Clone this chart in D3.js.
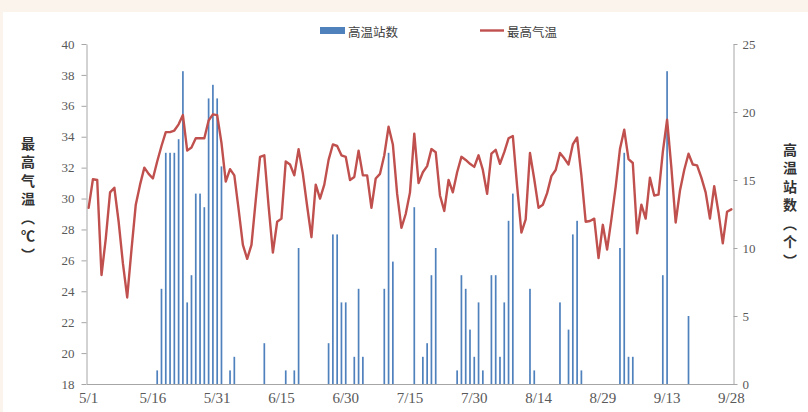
<!DOCTYPE html>
<html>
<head>
<meta charset="utf-8">
<script src="https://cdn.jsdelivr.net/npm/d3@7"></script>
<style>
  html, body { margin: 0; padding: 0; background: #fbf4ec; }
  svg { display: block; }
</style>
</head>
<body>
<svg id="chart" width="808" height="412"></svg>
<script>
// Daily maximum temperature (°C), 5/1 – 9/28
const maxTemp = [
  29.4, 31.25, 31.2, 25.05, 27.4, 30.4, 30.7, 28.5, 25.8, 23.6,
  26.7, 29.6, 30.9, 32.0, 31.6, 31.3, 32.4, 33.4, 34.3, 34.3,
  34.4, 34.8, 35.4, 33.1, 33.3, 33.9, 33.9, 33.9, 35.05, 35.45,
  35.4, 33.6, 31.1, 31.9, 31.5, 29.3, 27.0, 26.1, 27.0, 29.9,
  32.7, 32.8, 29.5, 26.5, 28.5, 28.7, 32.4, 32.2, 31.5, 33.2,
  31.6, 29.5, 27.5, 30.9, 30.0, 30.9, 32.5, 33.5, 33.4, 32.8,
  32.7, 31.2, 31.4, 33.1, 31.5, 31.5, 29.4, 31.3, 31.6, 32.8,
  34.65, 33.5, 30.3, 28.1, 29.0, 30.4, 34.2, 31.0, 31.7, 32.1,
  33.2, 33.0, 30.2, 29.2, 31.2, 30.4, 31.7, 32.7, 32.5, 32.25,
  32.05, 32.8, 31.85, 30.3, 32.9, 33.15, 32.25, 33.0, 33.9, 34.05,
  30.8, 27.8, 28.65, 32.95, 31.25, 29.4, 29.6, 30.35, 31.45, 31.85,
  32.95, 32.6, 32.2, 33.5, 33.95, 31.5, 28.5, 28.55, 28.7, 26.15,
  28.3, 26.7, 28.65, 30.75, 33.2, 34.45, 32.55, 32.3, 27.75, 29.6,
  28.7, 31.35, 30.2, 30.25, 33.0, 35.1, 32.0, 28.45, 30.5, 31.85,
  32.9, 32.2, 32.15, 31.35, 30.4, 28.7, 30.8, 29.1, 27.1, 29.15,
  29.3
];

// Number of high-temperature stations per day
const hotStations = [
  0, 0, 0, 0, 0, 0, 0, 0, 0, 0,
  0, 0, 0, 0, 0, 0, 1, 7, 17, 17,
  17, 18, 23, 6, 8, 14, 14, 13, 21, 22,
  21, 16, 0, 1, 2, 0, 0, 0, 0, 0,
  0, 3, 0, 0, 0, 0, 1, 0, 1, 10,
  0, 0, 0, 0, 0, 0, 3, 11, 11, 6,
  6, 0, 2, 7, 2, 0, 0, 0, 0, 7,
  17, 9, 0, 0, 0, 0, 13, 0, 2, 3,
  8, 10, 0, 0, 0, 0, 1, 8, 7, 4,
  2, 6, 1, 0, 8, 8, 2, 6, 12, 14,
  0, 0, 0, 7, 1, 0, 0, 0, 0, 0,
  6, 0, 4, 11, 12, 1, 0, 0, 0, 0,
  0, 0, 0, 0, 10, 17, 2, 2, 0, 0,
  0, 0, 0, 0, 8, 23, 0, 0, 0, 0,
  5, 0, 0, 0, 0, 0, 0, 0, 0, 0,
  0
];

const startDate = new Date(2013, 4, 1);
const dayLabels = maxTemp.map((_, i) => d3.timeFormat("%-m/%-d")(d3.timeDay.offset(startDate, i)));
const xTickLabels = ["5/1", "5/16", "5/31", "6/15", "6/30", "7/15", "7/30", "8/14", "8/29", "9/13", "9/28"];
const tempTicks = [18, 20, 22, 24, 26, 28, 30, 32, 34, 36, 38, 40];
const stationTicks = [0, 5, 10, 15, 20, 25];

const svg = d3.select("#chart");
const W = 808, H = 412;
const plot = { left: 86.5, right: 733.5, top: 44, bottom: 384 };

// white chart area
svg.append("rect").attr("x", 3).attr("y", 12).attr("width", W - 3).attr("height", H - 12).attr("fill", "#ffffff");

const x = d3.scaleBand().domain(dayLabels).range([plot.left, plot.right]).paddingInner(0).paddingOuter(0);
const yT = d3.scaleLinear().domain([18, 40]).range([plot.bottom, plot.top]);
const yN = d3.scaleLinear().domain([0, 25]).range([plot.bottom, plot.top]);
const cx = d => x(d) + x.bandwidth() / 2;

const axisColor = "#a6a6a6";
const labelColor = "#595959";
const numFont = "'Liberation Serif', 'Times New Roman', serif";
const cjkFont = "'Noto Sans CJK SC', 'Noto Sans', sans-serif";

// bars: station counts
const barW = 1.7;
svg.append("g").selectAll("rect")
  .data(dayLabels.map((d, i) => ({ d, v: hotStations[i] })).filter(o => o.v > 0))
  .join("rect")
  .attr("x", o => cx(o.d) - barW / 2)
  .attr("width", barW)
  .attr("y", o => yN(o.v))
  .attr("height", o => yN(0) - yN(o.v))
  .attr("fill", "#4f81bd");

// axes
function styleAxis(g) {
  g.selectAll(".domain").attr("stroke", axisColor);
  g.selectAll(".tick line").attr("stroke", axisColor);
  g.selectAll(".tick text").attr("fill", labelColor);
}

svg.append("g")
  .attr("transform", `translate(${plot.left},0)`)
  .call(d3.axisLeft(yT).tickValues(tempTicks).tickSize(5).tickPadding(7).tickSizeOuter(0))
  .call(g => g.selectAll("text").style("font-family", numFont).style("font-size", "13px"))
  .call(styleAxis);

svg.append("g")
  .attr("transform", `translate(${plot.right},0)`)
  .call(d3.axisRight(yN).tickValues(stationTicks).tickSize(4).tickPadding(5).tickSizeOuter(0))
  .call(g => g.selectAll("text").style("font-family", numFont).style("font-size", "13px"))
  .call(styleAxis);

svg.append("g")
  .attr("transform", `translate(0,${plot.bottom})`)
  .call(d3.axisBottom(x).tickValues(xTickLabels).tickSize(0).tickPadding(8).tickSizeOuter(0))
  .call(g => g.selectAll("text").style("font-family", numFont).style("font-size", "15px"))
  .call(styleAxis);

// temperature line
const line = d3.line()
  .x((t, i) => cx(dayLabels[i]))
  .y(t => yT(t));
svg.append("path")
  .datum(maxTemp)
  .attr("d", line)
  .attr("fill", "none")
  .attr("stroke", "#c0504d")
  .attr("stroke-width", 2.4)
  .attr("stroke-linejoin", "round")
  .attr("stroke-linecap", "round");

// vertical axis titles, set in vertical writing mode
function verticalTitle(label, xPos, yCenter) {
  svg.append("text")
    .attr("x", xPos)
    .attr("y", yCenter)
    .attr("text-anchor", "middle")
    .style("writing-mode", "vertical-rl")
    .style("font-family", cjkFont)
    .style("font-size", "14px")
    .style("font-weight", "bold")
    .style("letter-spacing", "4.5px")
    .attr("fill", "#333333")
    .text(label);
}
verticalTitle("最高气温（℃）", 28, 201);
verticalTitle("高温站数（个）", 790, 207);

// legend
const legend = svg.append("g");
legend.append("rect").attr("x", 320).attr("y", 27).attr("width", 25).attr("height", 7).attr("fill", "#4f81bd");
legend.append("text").attr("x", 348).attr("y", 31)
  .attr("dominant-baseline", "central")
  .style("font-family", cjkFont).style("font-size", "12.5px").attr("fill", "#404040")
  .text("高温站数");
legend.append("line").attr("x1", 480).attr("x2", 504).attr("y1", 30.5).attr("y2", 30.5)
  .attr("stroke", "#c0504d").attr("stroke-width", 2.4);
legend.append("text").attr("x", 507).attr("y", 31)
  .attr("dominant-baseline", "central")
  .style("font-family", cjkFont).style("font-size", "12.5px").attr("fill", "#404040")
  .text("最高气温");
</script>
</body>
</html>
